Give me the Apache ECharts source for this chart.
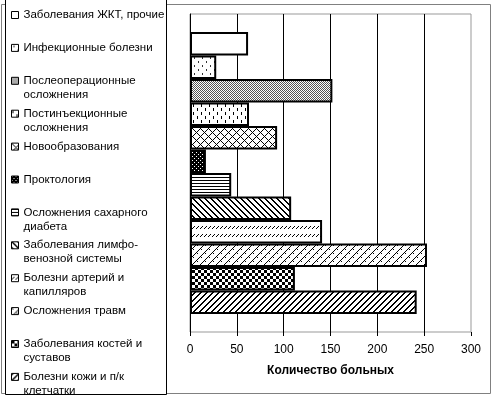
<!DOCTYPE html>
<html>
<head>
<meta charset="utf-8">
<script src="https://cdn.jsdelivr.net/npm/echarts@6/dist/echarts.min.js"></script>
<style>
  html, body { margin: 0; padding: 0; background: #fff; }
  #chart { width: 496px; height: 398px; }
</style>
</head>
<body>
<div id="chart"></div>
<script>
// данные
const diseases = [
  'Заболевания ЖКТ, прочие',
  'Инфекционные болезни',
  'Послеоперационные\nосложнения',
  'Постинъекционные\nосложнения',
  'Новообразования',
  'Проктология',
  'Осложнения сахарного\nдиабета',
  'Заболевания лимфо-\nвенозной системы',
  'Болезни артерий и\nкапилляров',
  'Осложнения травм',
  'Заболевания костей и\nсуставов',
  'Болезни кожи и п/к\nклетчатки'
];
const patients = [62, 28, 152, 63, 93, 17, 44, 108, 141, 253, 112, 242];
const axisMin = 0;
const axisMax = 300;
const axisStep = 50;
const axisTitle = 'Количество больных';

const FONT = '"Liberation Sans", Arial, sans-serif';

// штриховки как в Excel
function pattern(size, isInk, ink) {
  const c = document.createElement('canvas');
  c.width = c.height = size;
  const ctx = c.getContext('2d');
  ctx.fillStyle = '#fff';
  ctx.fillRect(0, 0, size, size);
  ctx.fillStyle = ink || '#000';
  for (let y = 0; y < size; y++) {
    for (let x = 0; x < size; x++) {
      if (isInk(x, y)) ctx.fillRect(x, y, 1, 1);
    }
  }
  return { image: c, repeat: 'repeat' };
}

const fills = [
  '#ffffff',
  pattern(8, (x, y) => (x === 2 && (y === 1 || y === 2)) || (x === 6 && (y === 5 || y === 6)), '#333'),
  pattern(2, (x, y) => (x + y) % 2 === 0, '#555'),
  pattern(8, (x, y) => (x === 1 && y < 3) || (x === 5 && y >= 4 && y < 7)),
  pattern(8, (x, y) => (x + y) % 8 === 0 || (x - y + 8) % 8 === 0),
  pattern(4, (x, y) => !((x === 0 && y === 0) || (x === 2 && y === 2))),
  pattern(3, (x, y) => y === 0),
  pattern(6, (x, y) => (x - y + 6) % 6 < 2),
  pattern(8, (x, y) => y >= 2 && y <= 4 && (x + y) % 4 === 0),
  pattern(8, (x, y) => (x + y) % 8 === 0 || ((x - y + 8) % 8 === 0 && (x + y) % 8 < 4)),
  pattern(6, (x, y) => (Math.floor(x / 3) + Math.floor(y / 3)) % 2 === 0),
  pattern(6, (x, y) => (x + y) % 6 < 2)
];

const myChart = echarts.init(document.getElementById('chart'));
myChart.setOption({
  animation: false,
  textStyle: { fontFamily: FONT },
  graphic: [
    {
      type: 'rect', z: 0,
      shape: { x: 1.5, y: 4.5, width: 489, height: 389 },
      style: { fill: 'none', stroke: '#808080', lineWidth: 1 }
    },
    {
      type: 'rect', z: 1,
      shape: { x: 5.5, y: -1.5, width: 161, height: 396 },
      style: { fill: '#fff', stroke: '#000', lineWidth: 1 }
    }
  ],
  grid: {
    left: 190,
    right: 25,
    top: 14,
    bottom: 66,
    show: true,
    borderColor: '#999',
    borderWidth: 1
  },
  legend: {
    orient: 'vertical',
    left: 11,
    top: -6,
    padding: 0,
    height: 600,
    itemWidth: 7,
    itemHeight: 7,
    itemGap: -9.1,
    icon: 'rect',
    selectedMode: false,
    itemStyle: { borderWidth: 1, borderColor: '#000' },
    textStyle: {
      fontFamily: FONT,
      fontSize: 11.5,
      color: '#000',
      lineHeight: 14
    },
    // пустая строка сверху, чтобы первая строка подписи стояла напротив значка
    formatter: name => '\n' + name + (name.indexOf('\n') < 0 ? '\n' : ''),
    data: diseases
  },
  xAxis: {
    type: 'value',
    min: axisMin,
    max: axisMax,
    interval: axisStep,
    name: axisTitle,
    nameLocation: 'middle',
    nameGap: 33,
    nameTextStyle: { fontFamily: FONT, fontSize: 12, fontWeight: 'bold', color: '#000' },
    axisLine: { lineStyle: { color: '#000', width: 1 } },
    axisTick: { show: true, length: 4, lineStyle: { color: '#000' } },
    axisLabel: { color: '#000', fontSize: 12, fontFamily: FONT, margin: 12 },
    splitLine: {
      show: true,
      showMinLine: false,
      showMaxLine: false,
      lineStyle: { color: '#000', width: 1 }
    }
  },
  yAxis: {
    type: 'category',
    inverse: true,
    data: [''],
    axisLine: { lineStyle: { color: '#000', width: 1 } },
    axisTick: { show: false },
    axisLabel: { show: false }
  },
  series: diseases.map((name, i) => ({
    name: name,
    type: 'bar',
    data: [patients[i]],
    barGap: '0%',
    barCategoryGap: '11.3%',
    itemStyle: { color: fills[i], borderColor: '#000', borderWidth: 2 },
    emphasis: { disabled: true }
  }))
});
</script>
</body>
</html>
